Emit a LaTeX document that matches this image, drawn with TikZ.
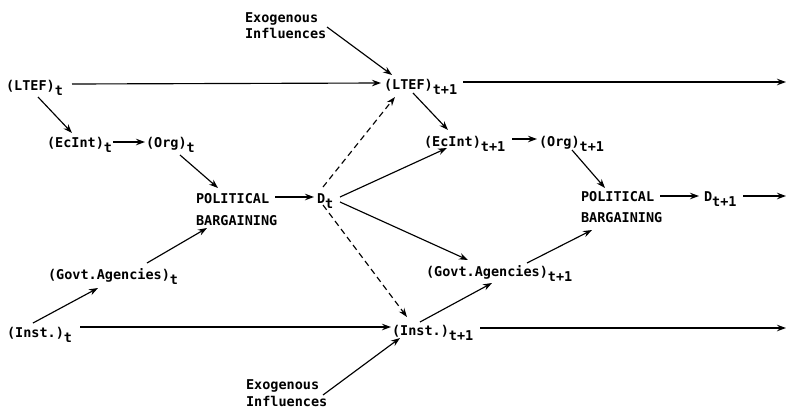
\documentclass[tikz,border=0pt]{standalone}
\usepackage{fontspec}
\setmainfont{DejaVu Sans Mono}
\usetikzlibrary{arrows.meta}
\newcommand\sbt[1]{\raisebox{-5pt}{#1}}
\begin{document}
\begin{tikzpicture}[x=1pt,y=-1pt,
  lbl/.style={anchor=base west,inner sep=0pt,outer sep=0pt,font=\bfseries\fontsize{13.5}{15}\selectfont},
  arr/.style={line width=1.15pt,-{Stealth[length=9pt,width=6.5pt,inset=3pt]}},
  darr/.style={arr,dash pattern=on 6pt off 4pt}]
\useasboundingbox[fill=white] (0,0) rectangle (787,410);
% nodes, period t
\node[lbl] (exoT)  at (245,22) {Exogenous};
\node[lbl] (exoT2) at (245,38) {Influences};
\node[lbl] (ltef0) at (6,90) {(LTEF)\sbt{t}};
\node[lbl] (ecint0) at (47,147) {(EcInt)\sbt{t}};
\node[lbl] (org0) at (146,147) {(Org)\sbt{t}};
\node[lbl] (pol0) at (196,203) {POLITICAL};
\node[lbl] (barg0) at (196,225) {BARGAINING};
\node[lbl] (d0) at (317,203) {D\sbt{t}};
\node[lbl] (govt0) at (48,279) {(Govt.Agencies)\sbt{t}};
\node[lbl] (inst0) at (7,337) {(Inst.)\sbt{t}};
% nodes, period t+1
\node[lbl] (ltef1) at (384,89) {(LTEF)\sbt{t+1}};
\node[lbl] (ecint1) at (424,146) {(EcInt)\sbt{t+1}};
\node[lbl] (org1) at (539,146) {(Org)\sbt{t+1}};
\node[lbl] (pol1) at (581,201) {POLITICAL};
\node[lbl] (barg1) at (581,222) {BARGAINING};
\node[lbl] (d1) at (704,201) {D\sbt{t+1}};
\node[lbl] (govt1) at (426,276) {(Govt.Agencies)\sbt{t+1}};
\node[lbl] (inst1) at (392,335) {(Inst.)\sbt{t+1}};
\node[lbl] (exoB) at (246,389) {Exogenous};
\node[lbl] (exoB2) at (246,406) {Influences};
% free ends
\coordinate (r1) at (786,82);
\coordinate (r2) at (786,196);
\coordinate (r3) at (786,328);
% connectors
\draw[arr] ([shift={(82,5)}]exoT.base west) -- ([shift={(8,-14)}]ltef1.base west);
\draw[arr] ([shift={(66,-6)}]ltef0.base west) -- ([shift={(-3,-6)}]ltef1.base west);
\draw[arr] ([shift={(79,-7)}]ltef1.base west) -- (r1);
\draw[arr] ([shift={(32,7)}]ltef0.base west) -- ([shift={(25,-14)}]ecint0.base west);
\draw[arr] ([shift={(66,-5)}]ecint0.base west) -- ([shift={(-1,-5)}]org0.base west);
\draw[arr] ([shift={(34,8)}]org0.base west) -- ([shift={(22,-15)}]pol0.base west);
\draw[arr] ([shift={(79,-6)}]pol0.base west) -- ([shift={(-3,-6)}]d0.base west);
\draw[arr] ([shift={(99,-16)}]govt0.base west) -- ([shift={(11,3)}]barg0.base west);
\draw[arr] ([shift={(26,-14)}]inst0.base west) -- ([shift={(50,9)}]govt0.base west);
\draw[arr] ([shift={(73,-10)}]inst0.base west) -- ([shift={(-1,-8)}]inst1.base west);
\draw[arr] ([shift={(88,-7)}]inst1.base west) -- (r3);
\draw[arr] ([shift={(77,6)}]exoB.base west) -- ([shift={(8,3)}]inst1.base west);
\draw[arr] ([shift={(28,-13)}]inst1.base west) -- ([shift={(66,7)}]govt1.base west);
\draw[arr] ([shift={(101,-13)}]govt1.base west) -- ([shift={(11,8)}]barg1.base west);
\draw[arr] ([shift={(23,-6)}]d0.base west) -- ([shift={(23,2)}]ecint1.base west);
\draw[arr] ([shift={(23,-1)}]d0.base west) -- ([shift={(42,-16)}]govt1.base west);
\draw[darr] ([shift={(6,-16)}]d0.base west) -- ([shift={(11,8)}]ltef1.base west);
\draw[darr] ([shift={(6,2)}]d0.base west) -- ([shift={(15,-18)}]inst1.base west);
\draw[arr] ([shift={(29,4)}]ltef1.base west) -- ([shift={(24,-16)}]ecint1.base west);
\draw[arr] ([shift={(88,-7)}]ecint1.base west) -- ([shift={(-2,-7)}]org1.base west);
\draw[arr] ([shift={(33,4)}]org1.base west) -- ([shift={(24,-13)}]pol1.base west);
\draw[arr] ([shift={(79,-5)}]pol1.base west) -- ([shift={(-5,-5)}]d1.base west);
\draw[arr] ([shift={(39,-5)}]d1.base west) -- (r2);
\end{tikzpicture}
\end{document}
